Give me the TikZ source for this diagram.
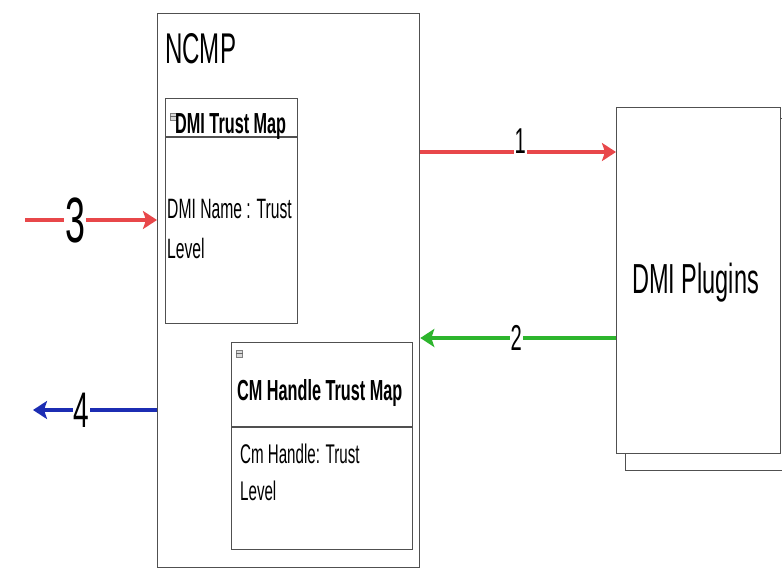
\documentclass[tikz,border=0pt]{standalone}
\usepackage{fontspec}
\setmainfont[FakeStretch=0.56]{Liberation Sans}
\usetikzlibrary{arrows.meta}
\definecolor{myred}{HTML}{E8474A}
\definecolor{mygreen}{HTML}{2DB52D}
\definecolor{myblue}{HTML}{1C2DB3}
\definecolor{myborder}{HTML}{505050}
\newcommand\myfs[2]{\fontsize{#1}{#2}\selectfont}
\begin{document}
\begin{tikzpicture}[x=1pt,y=-1pt,
  box/.style={draw=myborder, line width=1.3pt, fill=white, rectangle, inner sep=0pt, anchor=north west},
  txt/.style={inner sep=0pt, anchor=base west, align=left},
  arr/.style={line width=3.2pt, -{Stealth[length=14pt,width=18pt,inset=3pt]}},
  lbl/.style={fill=white, inner sep=0.8pt, text=black},
  icon/.style={draw=gray, fill=gray!30, line width=0.5pt, rectangle, inner sep=0pt, minimum width=6pt, minimum height=7pt, anchor=north west}
]
\path[use as bounding box] (0,0) rectangle (782,574);
\fill[white] (0,0) rectangle (782,574);

% NCMP container
\node[box, minimum width=262pt, minimum height=554pt] (ncmp) at (157,13) {};
\node[txt, font=\myfs{43}{50}] (ncmptitle) at (165,63) {NCMP};

% DMI Trust Map table
\node[box, minimum width=132pt, minimum height=225pt] (dmitab) at (165,98) {};
\draw[myborder, line width=1.3pt] (dmitab.west |- 0,137) coordinate (dmisepL) -- (dmitab.east |- 0,137) coordinate (dmisepR);
\node[icon] (dmiicon) at (170,113) {};
\draw[gray!80!black, line width=0.8pt] (dmiicon.west) -- (dmiicon.east);
\node[txt, font=\myfs{29}{34}\bfseries] (dmihead) at (175,133) {DMI Trust Map};
\node[txt, font=\myfs{28}{40}] (dmibody) at (167,258) {DMI Name : Trust\\Level};

% CM Handle Trust Map table
\node[box, minimum width=181pt, minimum height=207pt] (cmtab) at (231,342) {};
\draw[myborder, line width=1.3pt] (cmtab.west |- 0,427) coordinate (cmsepL) -- (cmtab.east |- 0,427) coordinate (cmsepR);
\node[icon] (cmicon) at (236,350) {};
\draw[gray!80!black, line width=0.8pt] (cmicon.west) -- (cmicon.east);
\node[txt, font=\myfs{29}{34}\bfseries] (cmhead) at (237,400) {CM Handle Trust Map};
\node[txt, font=\myfs{27}{37}] (cmbody) at (240,500) {Cm Handle: Trust\\Level};

% DMI Plugins (stacked)
\node[box, minimum width=170pt, minimum height=352pt] (plugshadow) at (625,118) {};
\node[box, minimum width=164pt, minimum height=346pt] (plugins) at (616,107) {};
\node[txt, font=\myfs{42}{50}] (plugtxt) at (632,293) {DMI Plugins};

% free ends
\coordinate (in3) at (25,220);
\coordinate (out4) at (33,410);

% arrows
\draw[arr, myred] (ncmp.east |- 0,152) -- node[lbl, pos=0.51, anchor=base, yshift=-1pt, font=\myfs{36}{40}] {1} (plugins.west |- 0,152);
\draw[arr, mygreen] (plugins.west |- 0,338) -- node[lbl, pos=0.51, font=\myfs{36}{40}] {2} (ncmp.east |- 0,338);
\draw[arr, myred] (in3) -- node[lbl, pos=0.38, font=\myfs{64}{70}] {3} (ncmp.west |- in3);
\draw[arr, myblue] (ncmp.west |- out4) -- node[lbl, pos=0.61, font=\myfs{50}{56}] {4} (out4);
\end{tikzpicture}
\end{document}
